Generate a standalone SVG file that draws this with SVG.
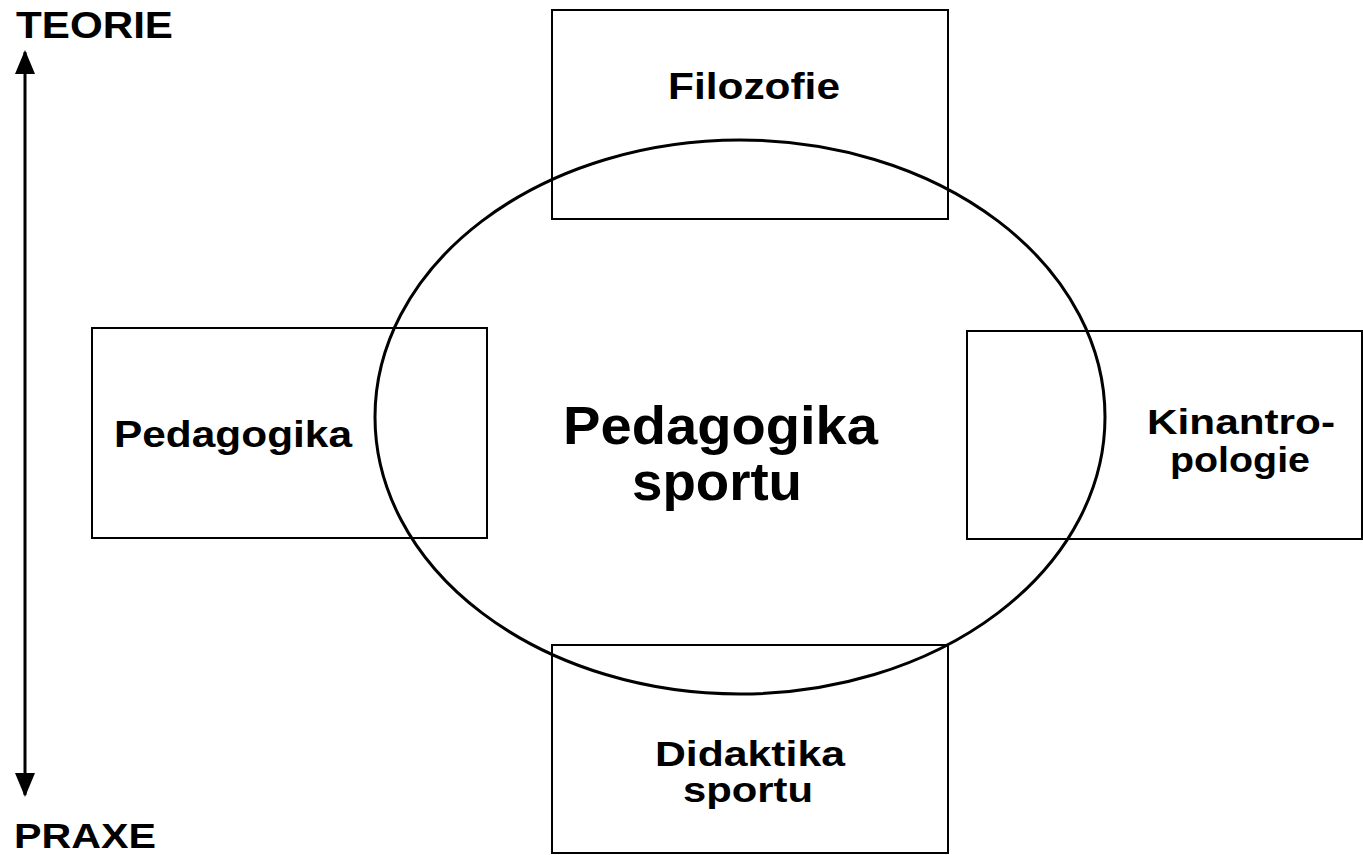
<svg xmlns="http://www.w3.org/2000/svg" width="1363" height="855" viewBox="0 0 1363 855">
<style>
.box{fill:none;stroke:#000;stroke-width:2}
.t{font-family:"Liberation Sans",Arial,sans-serif;font-weight:bold;fill:#000;font-size:37px}
.two{font-size:35px}
.big{font-size:53px}
</style>
<defs>
<marker id="ah" markerUnits="userSpaceOnUse" markerWidth="24" markerHeight="24" refX="22" refY="10" orient="auto">
<polygon points="0,0 24,10 0,20" fill="#000"/>
</marker>
</defs>
<rect width="1363" height="855" fill="#fff"/>
<g id="axis">
<line x1="25" y1="420" x2="25" y2="52" stroke="#000" stroke-width="3" marker-end="url(#ah)"/>
<line x1="25" y1="420" x2="25" y2="795" stroke="#000" stroke-width="3" marker-end="url(#ah)"/>
<text class="t" x="16" y="38" textLength="157" lengthAdjust="spacingAndGlyphs">TEORIE</text>
<text class="t two" x="14" y="848" textLength="142" lengthAdjust="spacingAndGlyphs">PRAXE</text>
</g>
<g id="filozofie">
<rect class="box" x="552" y="10" width="396" height="209"/>
<text class="t" x="668" y="99" textLength="172" lengthAdjust="spacingAndGlyphs">Filozofie</text>
</g>
<g id="pedagogika">
<rect class="box" x="92" y="328" width="395" height="210"/>
<text class="t" x="114" y="447" textLength="238" lengthAdjust="spacingAndGlyphs">Pedagogika</text>
</g>
<g id="kinantropologie">
<rect class="box" x="967" y="331" width="395" height="208"/>
<text class="t two" x="1147" y="434" textLength="188" lengthAdjust="spacingAndGlyphs">Kinantro-</text>
<text class="t two" x="1170" y="472" textLength="140" lengthAdjust="spacingAndGlyphs">pologie</text>
</g>
<g id="didaktika">
<rect class="box" x="552" y="645" width="396" height="208"/>
<text class="t two" x="655" y="766" textLength="190" lengthAdjust="spacingAndGlyphs">Didaktika</text>
<text class="t two" x="683" y="802" textLength="130" lengthAdjust="spacingAndGlyphs">sportu</text>
</g>
<g id="pedagogika-sportu">
<ellipse cx="740" cy="417" rx="365" ry="277" fill="none" stroke="#000" stroke-width="3"/>
<text class="t big" x="563" y="444" textLength="315" lengthAdjust="spacingAndGlyphs">Pedagogika</text>
<text class="t big" x="632" y="500" textLength="170" lengthAdjust="spacingAndGlyphs">sportu</text>
</g>
</svg>
